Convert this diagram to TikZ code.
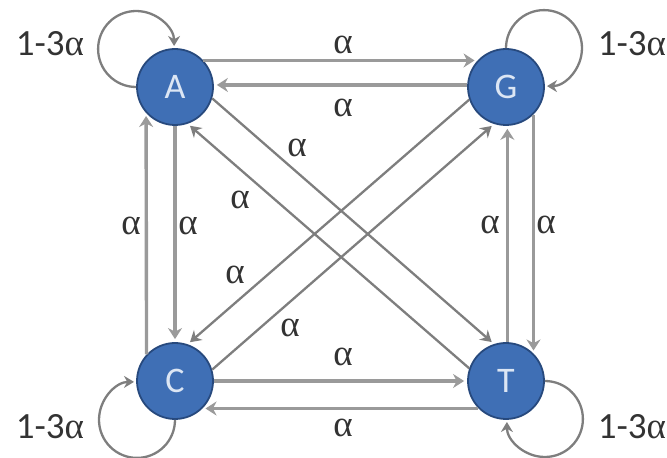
\documentclass[tikz,border=0pt]{standalone}
\usepackage{fontspec}
\setmainfont{Carlito}
\newfontfamily\grk{Liberation Serif}
\usetikzlibrary{arrows.meta}
\definecolor{nodefill}{HTML}{3F6FB5}
\definecolor{nodeline}{HTML}{27497D}
\definecolor{nodetext}{HTML}{DCE6F4}
\definecolor{edgegray}{HTML}{9A9A9A}
\definecolor{diaggray}{HTML}{7E7E7E}
\definecolor{loopgray}{HTML}{7E7E7E}
\newcommand{\al}{{\grk α}}
\tikzset{
  base nodes/.style={circle, fill=nodefill, draw=nodeline, line width=1.8pt,
    minimum size=76pt, inner sep=0pt, text=nodetext,
    font=\fontsize{36}{36}\selectfont},
  straightedge/.style={draw=edgegray, line width=3.4pt,
    -{Stealth[length=11pt,width=14pt]}, shorten >=3pt},
  diagedge/.style={draw=diaggray, line width=2.3pt,
    -{Stealth[length=11pt,width=13pt]}, shorten >=3pt},
  loopedge/.style={draw=loopgray, line width=2.3pt,
    -{Stealth[length=10pt,width=12pt]}, shorten >=3pt},
  lbl/.style={inner sep=0pt, text=black!80, font=\fontsize{37}{37}\selectfont}
}
\begin{document}
\begin{tikzpicture}[x=1pt,y=1pt]
\useasboundingbox (0,0) rectangle (667,458);
% nodes
\node[base nodes] (A) at (175,371) {A};
\node[base nodes] (G) at (506,371) {G};
\node[base nodes] (C) at (175,77) {C};
\node[base nodes] (T) at (506,77) {T};
% horizontal
\draw[straightedge] (A.43) -- (G.137);
\draw[straightedge] (G.177) -- (A.3);
\draw[straightedge] (C.0) -- (T.180);
\draw[straightedge] (T.-135) -- (C.-45);
% vertical
\draw[straightedge] (A.-90) -- (C.90);
\draw[straightedge] (C.137.5) -- (A.222.5);
\draw[straightedge] (G.-45) -- (T.45);
\draw[straightedge] (T.88) -- (G.-88);
% diagonals
\draw[diagedge] (A.-17) -- (T.108);
\draw[diagedge] (T.161) -- (A.-71);
\draw[diagedge] (C.17) -- (G.-108);
\draw[diagedge] (G.199) -- (C.71);
% loops
\draw[loopedge] (A.west) arc[start angle=270, end angle=0, radius=38];
\draw[loopedge] (G.north) arc[start angle=180, end angle=-90, radius=38];
\draw[loopedge] (C.south) arc[start angle=0, end angle=-270, radius=38];
\draw[loopedge] (T.east) arc[start angle=90, end angle=-180, radius=38];
% loop labels
\node[lbl] (lA) at (50,414) {1-3\al};
\node[lbl] (lG) at (632,414) {1-3\al};
\node[lbl] (lC) at (50,31) {1-3\al};
\node[lbl] (lT) at (632,31) {1-3\al};
% edge labels
\node[lbl] (eAG) at (343,413) {\al};
\node[lbl] (eGA) at (343,350) {\al};
\node[lbl] (eCT) at (343,101) {\al};
\node[lbl] (eTC) at (343,30) {\al};
\node[lbl] (eCA) at (131,232) {\al};
\node[lbl] (eAC) at (188,232) {\al};
\node[lbl] (eTG) at (490,233) {\al};
\node[lbl] (eGT) at (546,233) {\al};
\node[lbl] (eAT) at (297,310) {\al};
\node[lbl] (eTA) at (240,258) {\al};
\node[lbl] (eGC) at (235,183) {\al};
\node[lbl] (eCG) at (290,130) {\al};
\end{tikzpicture}
\end{document}
